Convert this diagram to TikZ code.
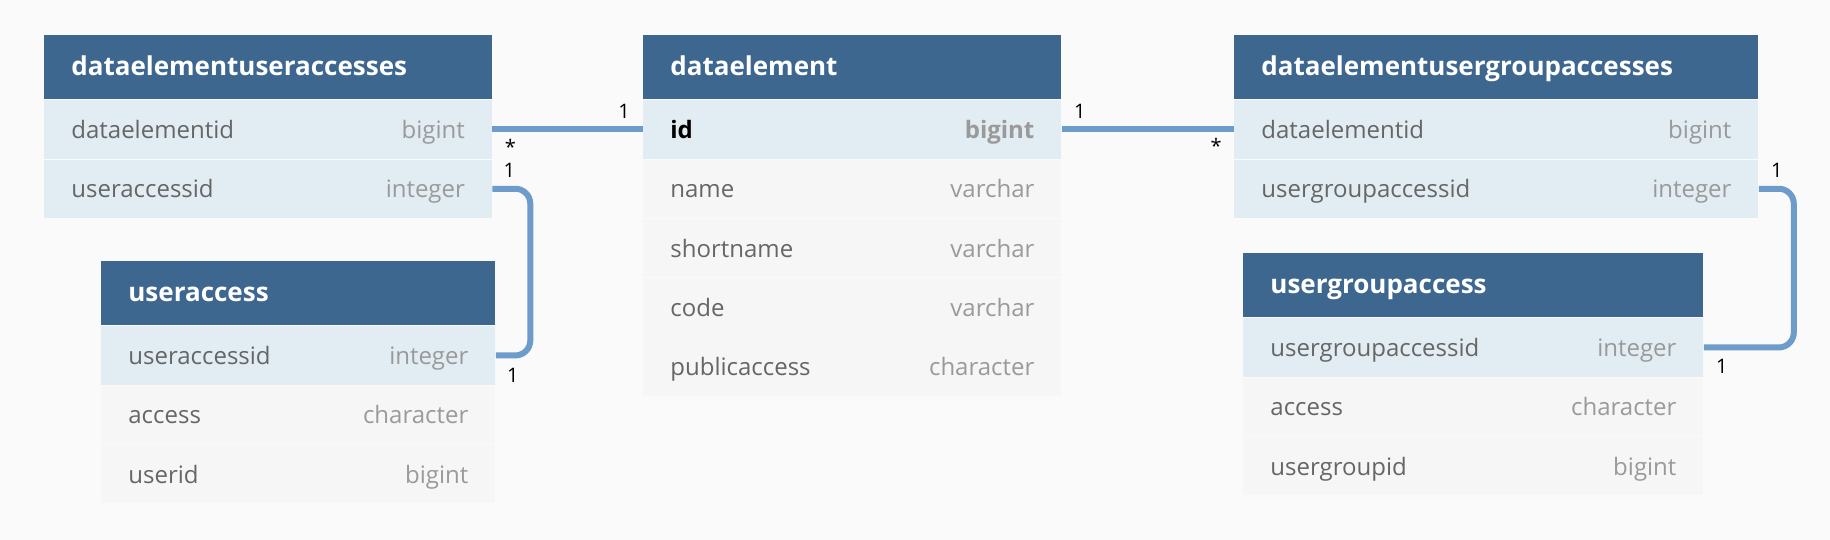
\documentclass[tikz,border=0pt]{standalone}
\usepackage{fontspec}
\setmainfont{Open Sans}
\usetikzlibrary{positioning}

\definecolor{bg}{HTML}{FAFAFA}
\definecolor{headblue}{HTML}{3E6790}
\definecolor{keyblue}{HTML}{E1ECF3}
\definecolor{rowgray}{HTML}{F6F6F6}
\definecolor{linkblue}{HTML}{6D9CCB}
\definecolor{fieldgray}{HTML}{666666}
\definecolor{typegray}{HTML}{9A9A9A}

\newcommand\colgap{\hskip 0pt plus 1fill\relax}
\newcommand\ftype[1]{\textcolor{typegray}{#1}}

\tikzset{
	tabcell/.style={anchor=north west, inner xsep=13.5pt, inner ysep=0pt,
		text width=#1, text height=9pt, text depth=0pt, minimum height=29.25pt,
		font=\fontsize{12}{14}\selectfont, text=fieldgray},
	head/.style={tabcell=#1, fill=headblue, text=white, minimum height=32pt,
		text height=8pt, font=\fontsize{13}{15}\selectfont\bfseries},
	keyrow/.style={tabcell=#1, fill=keyblue},
	plainrow/.style={tabcell=#1, fill=rowgray},
	link/.style={draw=linkblue, line width=3pt, rounded corners=7.5pt},
	card/.style={font=\fontsize{10}{12}\selectfont, text=black, inner sep=0pt},
}

\begin{document}
\begin{tikzpicture}[x=0.5pt,y=-0.5pt]
	\fill[bg] (0,0) rectangle (1830,540);
	
	% dataelementuseraccesses
	\node[head=196.75pt] (a0) at (44,35) {dataelementuseraccesses};
	\node[keyrow=196.75pt, below=0pt of a0] (a1) {dataelementid\colgap\ftype{bigint}};
	\node[keyrow=196.75pt, below=0pt of a1] (a2) {useraccessid\colgap\ftype{integer}};
	
	% useraccess
	\node[head=170pt] (b0) at (101,261) {useraccess};
	\node[keyrow=170pt, below=0pt of b0] (b1) {useraccessid\colgap\ftype{integer}};
	\node[plainrow=170pt, below=0pt of b1] (b2) {access\colgap\ftype{character}};
	\node[plainrow=170pt, below=0pt of b2] (b3) {userid\colgap\ftype{bigint}};
	
	% dataelement
	\node[head=182pt] (c0) at (643,35) {dataelement};
	\node[keyrow=182pt, below=0pt of c0] (c1) {\textbf{\textcolor{black}{id}}\colgap\textbf{\ftype{bigint}}};
	\node[plainrow=182pt, below=0pt of c1] (c2) {name\colgap\ftype{varchar}};
	\node[plainrow=182pt, below=0pt of c2] (c3) {shortname\colgap\ftype{varchar}};
	\node[plainrow=182pt, below=0pt of c3] (c4) {code\colgap\ftype{varchar}};
	\node[plainrow=182pt, below=0pt of c4] (c5) {publicaccess\colgap\ftype{character}};
	
	% dataelementusergroupaccesses
	\node[head=235pt] (d0) at (1234,35) {dataelementusergroupaccesses};
	\node[keyrow=235pt, below=0pt of d0] (d1) {dataelementid\colgap\ftype{bigint}};
	\node[keyrow=235pt, below=0pt of d1] (d2) {usergroupaccessid\colgap\ftype{integer}};
	
	% usergroupaccess
	\node[head=203pt] (e0) at (1243,253) {usergroupaccess};
	\node[keyrow=203pt, below=0pt of e0] (e1) {usergroupaccessid\colgap\ftype{integer}};
	\node[plainrow=203pt, below=0pt of e1] (e2) {access\colgap\ftype{character}};
	\node[plainrow=203pt, below=0pt of e2] (e3) {usergroupid\colgap\ftype{bigint}};
	
	% relations
	\draw[link] (a1.east) node[card, xshift=9pt, yshift=-8.5pt] {*}
		-- (c1.west) node[card, xshift=-9.5pt, yshift=9pt] {1};
	\draw[link] (a2.east) node[card, xshift=8.5pt, yshift=9pt] {1}
		-- ++(38,0) |- (b1.east) node[card, xshift=8.5pt, yshift=-10pt] {1};
	\draw[link] (c1.east) node[card, xshift=9pt, yshift=9pt] {1}
		-- (d1.west) node[card, xshift=-9pt, yshift=-8pt] {*};
	\draw[link] (d2.east) node[card, xshift=9pt, yshift=9pt] {1}
		-- ++(35,0) |- (e1.east) node[card, xshift=9pt, yshift=-9.5pt] {1};
\end{tikzpicture}
\end{document}
